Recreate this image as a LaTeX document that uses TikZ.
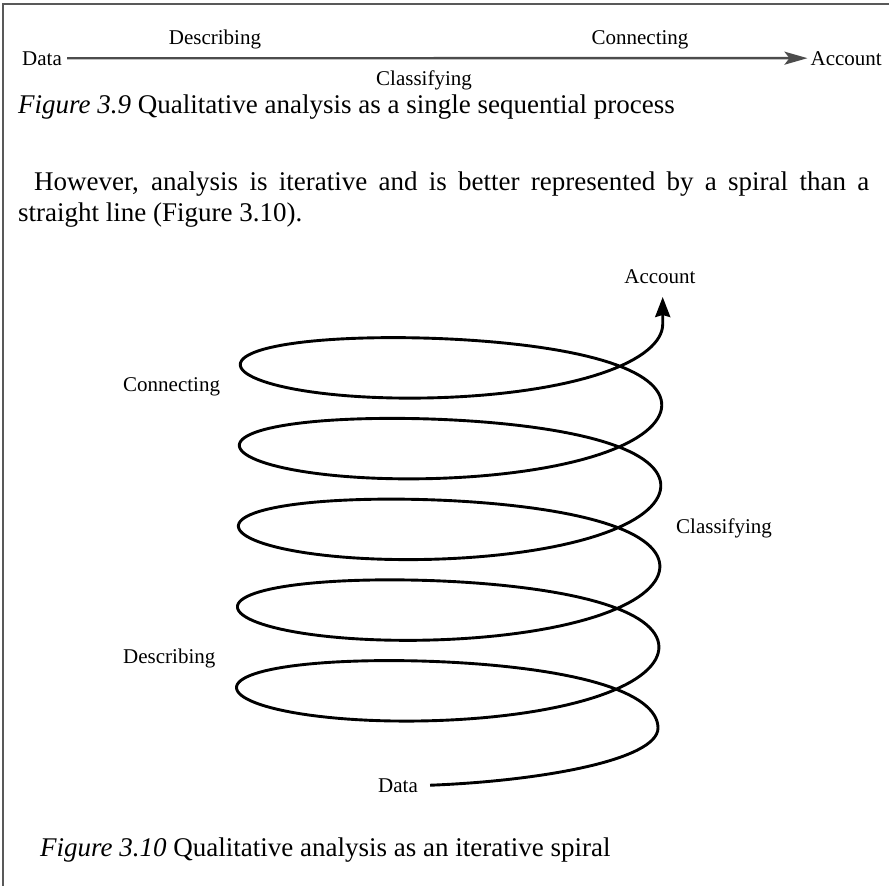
\documentclass[tikz,border=0pt]{standalone}
\usepackage{fontspec}
\setmainfont{Liberation Serif}
\usetikzlibrary{arrows.meta}
\begin{document}
\begin{tikzpicture}[x=1pt,y=-1pt,
  lbl/.style={font=\fontsize{21}{25}\selectfont, inner sep=0pt, anchor=base},
  body/.style={font=\fontsize{27}{31}\selectfont, inner sep=0pt, anchor=base west},
  frameline/.style={draw=black!65, line width=1.6pt},
  flowline/.style={draw=black!70, line width=2.4pt},
  spiralline/.style={draw=black, line width=2.9pt, line join=round}]
\useasboundingbox (0,0) rectangle (889,886);

% page rules, top and left
\draw[frameline] (3,886) -- (3,4) -- (889,4);

% Figure 3.9: the straight sequence
\node[lbl, anchor=base west] (d1) at (22,65) {Data};
\node[lbl, anchor=base east] (a1) at (882,65) {Account};
\node[lbl] (desc1) at (215,44) {Describing};
\node[lbl] (conn1) at (640,44) {Connecting};
\node[lbl] (class1) at (424,85) {Classifying};
\draw[flowline, -{Stealth[length=23pt,width=13pt,inset=5pt]}]
  ([xshift=5pt]d1.east) -- ([xshift=-3pt]a1.west);

\node[body] (cap1) at (18,113) {\textit{Figure 3.9} Qualitative analysis as a single sequential process};
\node[body] (par1) at (34,190) {\makebox[835pt][s]{However, analysis is iterative and is better represented by a spiral than a}};
\node[body] (par2) at (18,221) {straight line (Figure 3.10).};

% Figure 3.10: the iterative spiral
\node[lbl] (acc2) at (660,283) {Account};
\node[lbl, anchor=base west] (conn2) at (123,391) {Connecting};
\node[lbl, anchor=base west] (class2) at (676,533) {Classifying};
\node[lbl, anchor=base west] (desc2) at (123,663) {Describing};
\node[lbl, anchor=base west] (data2) at (378,792) {Data};
\coordinate (start) at ([xshift=12pt]data2.east);
\coordinate (tip) at (662.7,297);

% helix seen from the side: five turns rising from Data to Account
\draw[spiralline, -{Stealth[length=20pt,width=15pt,inset=2pt]}]
  (start) .. controls (540,781) and (658,760) .. (658,727.95)
  -- plot[domain=0:31.4159, samples=600, variable=\t]
     ({447+0.15*\t+211*cos(\t r)+10*sin(\t r)*sin(\t r)*(1+cos(\t r))},
      {729.7-(12.85*\t+48.7*sin(\t r)+1.75*cos(2*\t r))})
  -- (tip);

\node[body] (cap2) at (40,856) {\textit{Figure 3.10} Qualitative analysis as an iterative spiral};
\end{tikzpicture}
\end{document}
